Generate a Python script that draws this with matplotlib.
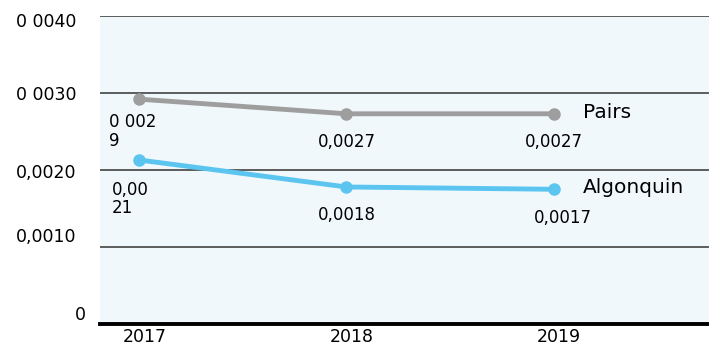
import matplotlib.pyplot as plt
import matplotlib.transforms as mtransforms

years = ['2017', '2018', '2019']
pairs = [0.00292, 0.00273, 0.00273]
algonquin = [0.00213, 0.00178, 0.00175]
pairs_labels = ['0 002\n9', '0,0027', '0,0027']
algonquin_labels = ['0,00\n21', '0,0018', '0,0017']
y_ticks = [0, 0.001, 0.002, 0.003, 0.004]
y_tick_labels = ['0', '0,0010', '0,0020', '0 0030', '0 0040']

grey = '#9e9e9e'
blue = '#5bc5f0'

fig = plt.figure(figsize=(7.09, 3.47), dpi=100)
ax = fig.add_axes([0.141, 0.066, 0.859, 0.888])
ax.set_facecolor('#f1f8fc')

x = list(range(len(years)))
ax.plot(x, pairs, color=grey, lw=3.5, marker='o', ms=8, solid_capstyle='round')
ax.plot(x, algonquin, color=blue, lw=3.5, marker='o', ms=8, solid_capstyle='round')

ax.set_xlim(-0.19, 2.75)
ax.set_ylim(0, 0.004)

for yv in y_ticks[1:]:
    ax.axhline(yv, color='#333333', lw=1.1, zorder=0)
for s in ['top', 'right', 'left']:
    ax.spines[s].set_visible(False)
ax.spines['bottom'].set_linewidth(2.8)
ax.spines['bottom'].set_color('black')

ax.set_yticks(y_ticks)
ax.set_yticklabels(y_tick_labels, fontsize=12.5)
ax.set_xticks(x)
ax.set_xticklabels(years, fontsize=12.5)
ax.tick_params(axis='y', length=0, pad=17)
ax.tick_params(axis='x', length=0, pad=3)

# nudge tick labels a bit like the original
yshift = [(7, 8), (0, 9), (0, -1), (0, 0), (0, -3)]
for lab, (dx, dy) in zip(ax.get_yticklabels(), yshift):
    lab.set_transform(lab.get_transform() +
                      mtransforms.ScaledTranslation(dx / 72, dy / 72, fig.dpi_scale_trans))
for lab in ax.get_xticklabels():
    lab.set_transform(lab.get_transform() +
                      mtransforms.ScaledTranslation(4 / 72, 0, fig.dpi_scale_trans))

# data labels
ax.annotate(pairs_labels[0], (x[0], pairs[0]), xytext=(-22, -10),
            textcoords='offset points', fontsize=12, ha='left', va='top',
            linespacing=1.1)
ax.annotate(algonquin_labels[0], (x[0], algonquin[0]), xytext=(-20, -15),
            textcoords='offset points', fontsize=12, ha='left', va='top',
            linespacing=1.0)
for i in [1, 2]:
    dx = 7 if i == 2 else 0
    ax.annotate(pairs_labels[i], (x[i], pairs[i]), xytext=(0, -14),
                textcoords='offset points', fontsize=12, ha='center', va='top')
    ax.annotate(algonquin_labels[i], (x[i], algonquin[i]), xytext=(dx, -14),
                textcoords='offset points', fontsize=12, ha='center', va='top')

ax.annotate('Pairs', (x[2], pairs[2]), xytext=(21, 1), textcoords='offset points',
            fontsize=14.5, ha='left', va='center')
ax.annotate('Algonquin', (x[2], algonquin[2]), xytext=(21, 1), textcoords='offset points',
            fontsize=14.5, ha='left', va='center')

fig.savefig('out.png', dpi=100)
